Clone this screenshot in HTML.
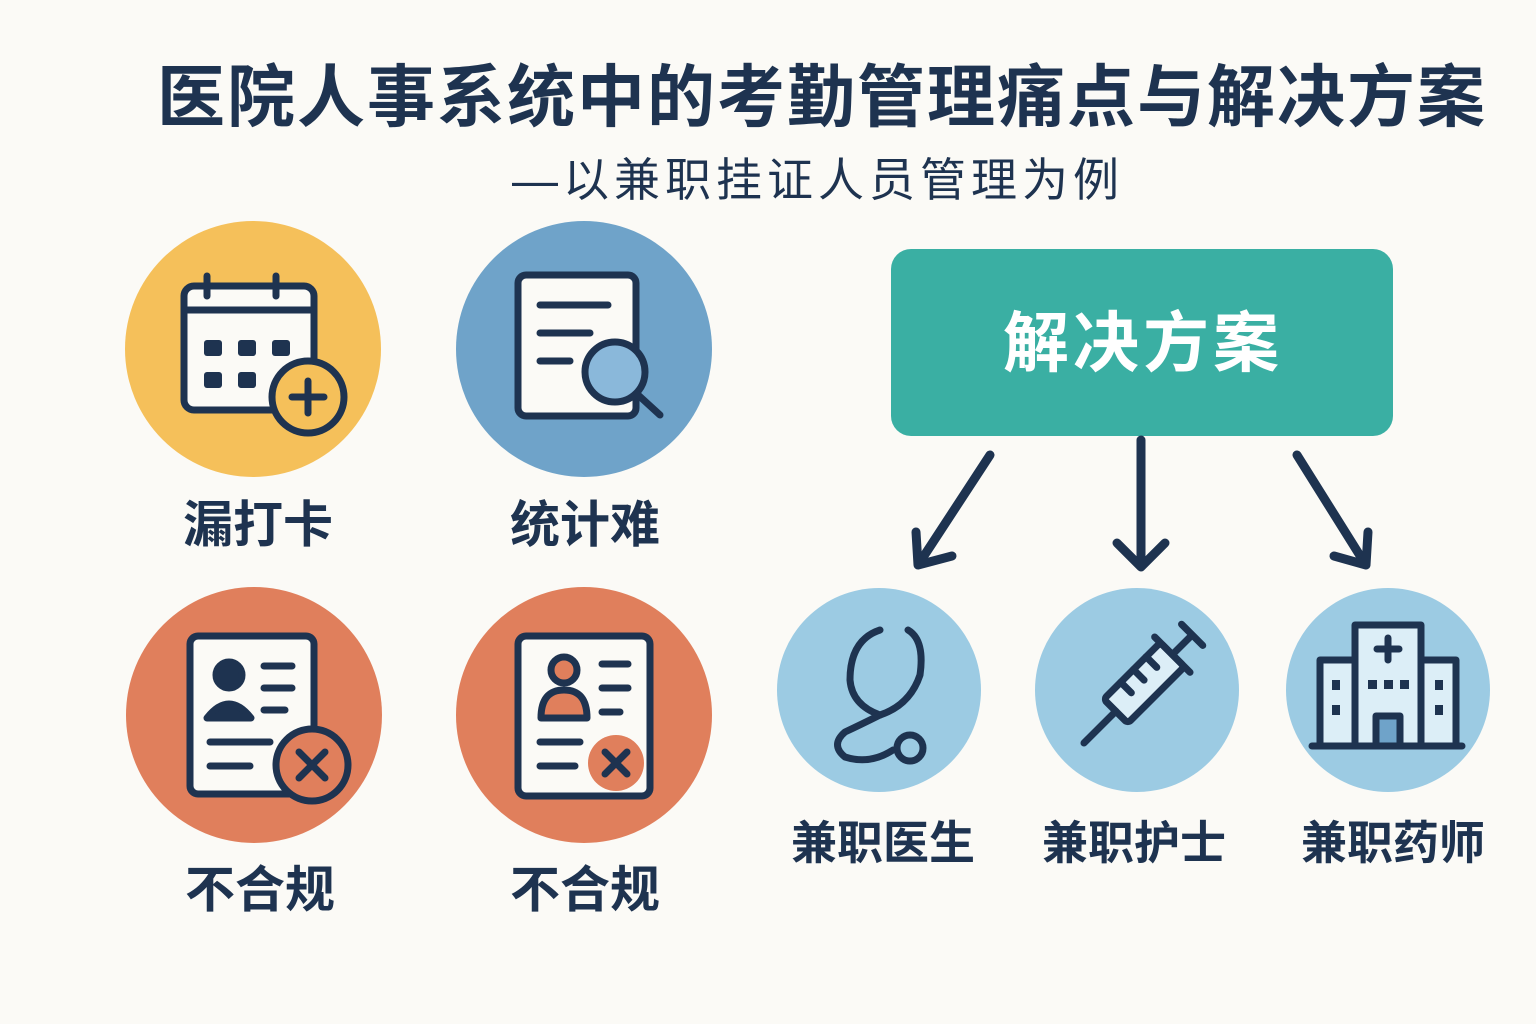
<!DOCTYPE html>
<html><head><meta charset="utf-8"><style>
html,body{margin:0;padding:0;}
body{width:1536px;height:1024px;background:#fbfaf6;position:relative;overflow:hidden;font-family:"Liberation Sans","Noto Sans CJK SC",sans-serif;color:#1e3350;}
.t{position:absolute;white-space:nowrap;text-align:center;transform:translateX(-50%);font-weight:700;}
</style></head><body>
<div class="t" style="left:822px;top:58px;font-size:68px;line-height:80px;letter-spacing:2px;">医院人事系统中的考勤管理痛点与解决方案</div>
<div class="t" style="left:818px;top:152px;font-size:46px;line-height:56px;font-weight:400;letter-spacing:5px;">—以兼职挂证人员管理为例</div>

<svg width="1536" height="1024" style="position:absolute;left:0;top:0" xmlns="http://www.w3.org/2000/svg">
<g stroke="#1e3350" stroke-width="7" fill="none" stroke-linecap="round" stroke-linejoin="round">
<!-- yellow -->
<circle cx="253" cy="349" r="128" fill="#f5c05a" stroke="none"/>
<rect x="184" y="286" width="130" height="124" rx="10" fill="#fbfaf6"/>
<line x1="184" y1="310" x2="314" y2="310"/>
<line x1="207" y1="276" x2="207" y2="296"/><line x1="276" y1="276" x2="276" y2="296"/>
<g fill="#1e3350" stroke="none">
<rect x="204" y="340" width="18" height="16" rx="3"/><rect x="238" y="340" width="18" height="16" rx="3"/><rect x="272" y="340" width="18" height="16" rx="3"/>
<rect x="204" y="372" width="18" height="16" rx="3"/><rect x="238" y="372" width="18" height="16" rx="3"/>
</g>
<circle cx="308" cy="397" r="36" fill="#f5c05a"/>
<line x1="308" y1="381" x2="308" y2="413"/><line x1="292" y1="397" x2="324" y2="397"/>
<!-- blue -->
<circle cx="584" cy="349" r="128" fill="#6fa3c9" stroke="none"/>
<rect x="518" y="275" width="118" height="141" rx="8" fill="#fbfaf6"/>
<line x1="540" y1="305" x2="608" y2="305"/><line x1="540" y1="333" x2="590" y2="333"/><line x1="540" y1="361" x2="570" y2="361"/>
<circle cx="615" cy="372" r="30" fill="#8ab8da"/>
<line x1="637" y1="394" x2="660" y2="415"/>
<!-- orange 1 -->
<circle cx="254" cy="715" r="128" fill="#e07f5c" stroke="none"/>
<rect x="190" y="636" width="124" height="158" rx="8" fill="#fbfaf6"/>
<circle cx="229" cy="675" r="13" fill="#1e3350"/>
<path d="M207 718 Q229 690 251 718 Z" fill="#1e3350"/>
<line x1="264" y1="666" x2="292" y2="666"/><line x1="264" y1="688" x2="292" y2="688"/><line x1="264" y1="710" x2="285" y2="710"/>
<line x1="210" y1="742" x2="270" y2="742"/><line x1="210" y1="766" x2="250" y2="766"/>
<circle cx="312" cy="765" r="36" fill="#e07f5c"/>
<line x1="299" y1="752" x2="325" y2="778"/><line x1="325" y1="752" x2="299" y2="778"/>
<!-- orange 2 -->
<circle cx="584" cy="715" r="128" fill="#e07f5c" stroke="none"/>
<rect x="518" y="636" width="132" height="160" rx="8" fill="#fbfaf6"/>
<circle cx="564" cy="670" r="13" fill="#e07f5c"/>
<path d="M541 718 Q541 690 564 690 Q587 690 587 718 Z" fill="#e07f5c"/>
<line x1="602" y1="664" x2="628" y2="664"/><line x1="602" y1="688" x2="628" y2="688"/><line x1="602" y1="712" x2="620" y2="712"/>
<line x1="540" y1="742" x2="580" y2="742"/><line x1="540" y1="766" x2="575" y2="766"/>
<circle cx="616" cy="763" r="28" fill="#e07f5c" stroke="none"/>
<line x1="605" y1="752" x2="627" y2="774"/><line x1="627" y1="752" x2="605" y2="774"/>
<!-- solution box -->
<rect x="891" y="249" width="502" height="187" rx="20" fill="#3aafa3" stroke="none"/>
<!-- arrows -->
<g stroke-width="9">
<line x1="990" y1="455" x2="920" y2="562"/><polyline points="916,532 918,565 952,556"/>
<line x1="1141" y1="440" x2="1141" y2="565"/><polyline points="1117,543 1141,567 1165,543"/>
<line x1="1297" y1="455" x2="1364" y2="562"/><polyline points="1334,556 1366,565 1368,532"/>
</g>
<!-- light blue circles -->
<circle cx="879" cy="690" r="102" fill="#9ccbe3" stroke="none"/>
<circle cx="1137" cy="690" r="102" fill="#9ccbe3" stroke="none"/>
<circle cx="1388" cy="690" r="102" fill="#9ccbe3" stroke="none"/>
<!-- stethoscope -->
<path d="M880 630 Q850 640 850 680 Q852 705 880 715 Q910 705 920 675 Q925 640 908 630"/>
<path d="M880 715 Q860 725 845 732 Q830 745 845 757 Q870 765 893 750"/>
<circle cx="910" cy="748" r="13" fill="#9ccbe3"/>
<!-- syringe -->
<g transform="rotate(45 1137 690)">
<rect x="1120" y="640" width="34" height="80" rx="4" fill="#dceef7"/>
<line x1="1137" y1="720" x2="1137" y2="765"/>
<line x1="1112" y1="640" x2="1162" y2="640"/>
<line x1="1137" y1="640" x2="1137" y2="615"/><line x1="1122" y1="612" x2="1152" y2="612"/>
<line x1="1120" y1="660" x2="1135" y2="660"/><line x1="1120" y1="678" x2="1135" y2="678"/><line x1="1120" y1="696" x2="1135" y2="696"/>
</g>
<!-- hospital -->
<rect x="1355" y="625" width="66" height="121" fill="#dceef7"/>
<rect x="1320" y="660" width="35" height="86" fill="#dceef7"/>
<rect x="1421" y="660" width="35" height="86" fill="#dceef7"/>
<line x1="1312" y1="746" x2="1462" y2="746"/>
<line x1="1388" y1="638" x2="1388" y2="660"/><line x1="1377" y1="649" x2="1399" y2="649"/>
<rect x="1376" y="716" width="24" height="30" fill="#6fa3c9"/>
<g fill="#1e3350" stroke="none">
<rect x="1368" y="680" width="9" height="9"/><rect x="1384" y="680" width="9" height="9"/><rect x="1400" y="680" width="9" height="9"/>
<rect x="1332" y="680" width="8" height="10"/><rect x="1332" y="705" width="8" height="10"/>
<rect x="1435" y="680" width="8" height="10"/><rect x="1435" y="705" width="8" height="10"/>
</g>
</g>
</svg>

<div class="t" style="left:1143px;top:303px;font-size:66px;line-height:80px;color:#fff;letter-spacing:4px;">解决方案</div>
<div class="t" style="left:258px;top:497px;font-size:50px;line-height:56px;">漏打卡</div>
<div class="t" style="left:585px;top:497px;font-size:50px;line-height:56px;">统计难</div>
<div class="t" style="left:260px;top:862px;font-size:50px;line-height:56px;">不合规</div>
<div class="t" style="left:585px;top:862px;font-size:50px;line-height:56px;">不合规</div>
<div class="t" style="left:883px;top:816px;font-size:46px;line-height:54px;">兼职医生</div>
<div class="t" style="left:1134px;top:816px;font-size:46px;line-height:54px;">兼职护士</div>
<div class="t" style="left:1393px;top:816px;font-size:46px;line-height:54px;">兼职药师</div>
</body></html>
